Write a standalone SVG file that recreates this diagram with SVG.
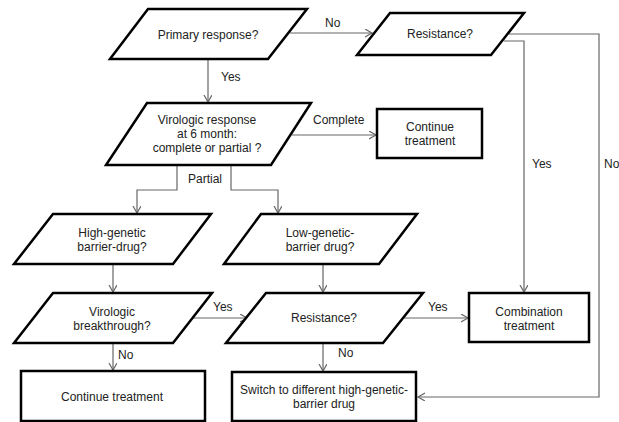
<svg xmlns="http://www.w3.org/2000/svg" width="619" height="422" viewBox="0 0 619 422">
<defs>
<marker id="arr" markerUnits="userSpaceOnUse" markerWidth="10" markerHeight="10" refX="7" refY="4" orient="auto">
<path d="M0,0 L7,4 L0,8" fill="none" stroke="#666" stroke-width="1.2"/>
</marker>
<style>
.s{fill:#fff;stroke:#000;stroke-width:2.5;stroke-linejoin:miter}
.t{font-family:"Liberation Sans",Arial,sans-serif;font-size:12px;fill:#222;text-anchor:middle}
.l{font-family:"Liberation Sans",Arial,sans-serif;font-size:12px;fill:#222}
.c{fill:none;stroke:#666;stroke-width:1.2}
</style>
</defs>
<rect width="619" height="422" fill="#fff"/>
<g id="connectors">
<path class="c" d="M208,59 V102" marker-end="url(#arr)"/>
<path class="c" d="M290,33 H372" marker-end="url(#arr)"/>
<path class="c" d="M509,34 H599 V397 H418" marker-end="url(#arr)"/>
<path class="c" d="M504,41 H524 V292" marker-end="url(#arr)"/>
<path class="c" d="M292,135 H376" marker-end="url(#arr)"/>
<path class="c" d="M177,165 V190 H137 V213" marker-end="url(#arr)"/>
<path class="c" d="M231,165 V190 H278 V213" marker-end="url(#arr)"/>
<path class="c" d="M113,264 V292" marker-end="url(#arr)"/>
<path class="c" d="M323,264 V292" marker-end="url(#arr)"/>
<path class="c" d="M193,318 H247" marker-end="url(#arr)"/>
<path class="c" d="M113,343 V370" marker-end="url(#arr)"/>
<path class="c" d="M404,318 H468" marker-end="url(#arr)"/>
<path class="c" d="M323,343 V371" marker-end="url(#arr)"/>
<text class="l" x="221" y="81">Yes</text>
<text class="l" x="325" y="27">No</text>
<text class="l" x="604" y="168">No</text>
<text class="l" x="532" y="168">Yes</text>
<text class="l" x="313" y="124">Complete</text>
<text class="l" x="188" y="183">Partial</text>
<text class="l" x="213" y="311">Yes</text>
<text class="l" x="118" y="359">No</text>
<text class="l" x="428" y="311">Yes</text>
<text class="l" x="338" y="357">No</text>
</g>
<g id="primary">
<polygon class="s" points="148,9 307,9 268,59 110,59"/>
<text class="t" x="208" y="39">Primary response?</text>
</g>
<g id="resistance1">
<polygon class="s" points="390,13 524,13 491,55 357,55"/>
<text class="t" x="440" y="38">Resistance?</text>
</g>
<g id="virologic">
<polygon class="s" points="147,103 311,103 271,165 106,165"/>
<text class="t" x="207" y="124">Virologic response</text>
<text class="t" x="207" y="138">at 6 month:</text>
<text class="t" x="207" y="152">complete or partial ?</text>
</g>
<g id="continue1">
<rect class="s" x="377" y="109" width="105" height="49"/>
<text class="t" x="430" y="131">Continue</text>
<text class="t" x="430" y="145">treatment</text>
</g>
<g id="highgenetic">
<polygon class="s" points="53,214 211,214 173,264 14,264"/>
<text class="t" x="112" y="237">High-genetic</text>
<text class="t" x="112" y="251">barrier-drug?</text>
</g>
<g id="lowgenetic">
<polygon class="s" points="261,214 417,214 379,264 224,264"/>
<text class="t" x="320" y="237">Low-genetic-</text>
<text class="t" x="320" y="251">barrier drug?</text>
</g>
<g id="breakthrough">
<polygon class="s" points="53,293 212,293 173,343 14,343"/>
<text class="t" x="112" y="316">Virologic</text>
<text class="t" x="112" y="330">breakthrough?</text>
</g>
<g id="resistance2">
<polygon class="s" points="266,293 423,293 383,343 226,343"/>
<text class="t" x="324" y="322">Resistance?</text>
</g>
<g id="combination">
<rect class="s" x="469" y="293" width="120" height="49"/>
<text class="t" x="529" y="316">Combination</text>
<text class="t" x="529" y="330">treatment</text>
</g>
<g id="continue2">
<rect class="s" x="21" y="371" width="184" height="50"/>
<text class="t" x="112" y="401">Continue treatment</text>
</g>
<g id="switch">
<rect class="s" x="232" y="372" width="184" height="49"/>
<text class="t" x="324" y="394">Switch to different high-genetic-</text>
<text class="t" x="324" y="408">barrier drug</text>
</g>
</svg>
